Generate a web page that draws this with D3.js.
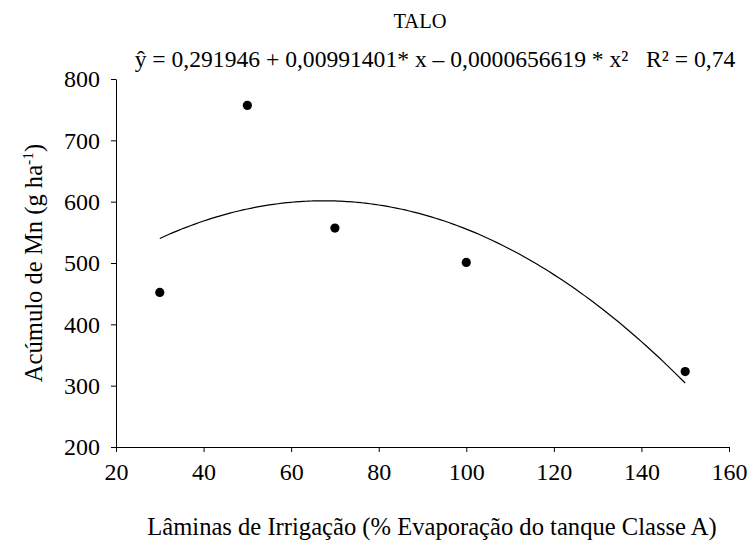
<!DOCTYPE html>
<html>
<head>
<meta charset="utf-8">
<script src="https://cdn.jsdelivr.net/npm/d3@7/dist/d3.min.js"></script>
</head>
<body style="margin:0;background:#fff">
<svg id="chart" width="753" height="549" style="display:block"></svg>
<script>
// Observed accumulation (g/ha) per irrigation depth
const laminas = [30, 50, 70, 100, 150];
const acumulo = [452, 757, 557, 501, 323];

// Quadratic trend curve as plotted: a + b*x + c*x^2
const trendCoef = [402.5, 5.895, -0.04367];
const trendRange = [30, 150];

const xTicks = [20, 40, 60, 80, 100, 120, 140, 160];
const yTicks = [200, 300, 400, 500, 600, 700, 800];

const titleText = "TALO";
const equationText = "ŷ = 0,291946 + 0,00991401* x – 0,0000656619 * x²   R² = 0,74";
const xTitle = "Lâminas de Irrigação (% Evaporação do tanque Classe A)";

const FONT = "Liberation Serif";
const svg = d3.select("#chart");
const margin = { left: 116, right: 24, top: 79, bottom: 102 };
const W = 753, H = 549;

const x = d3.scaleLinear().domain([20, 160]).range([margin.left, W - margin.right]);
const y = d3.scaleLinear().domain([200, 800]).range([H - margin.bottom, margin.top]);

const fontSize = 24;

// axes
const xAxis = d3.axisBottom(x).tickValues(xTicks).tickSize(5).tickSizeOuter(0).tickPadding(11);
const yAxis = d3.axisLeft(y).tickValues(yTicks).tickSize(5).tickSizeOuter(0).tickPadding(11);

const gx = svg.append("g").attr("transform", `translate(0,${y(200)})`).call(xAxis);
const gy = svg.append("g").attr("transform", `translate(${x(20)},0)`).call(yAxis);
[gx, gy].forEach(g => {
  g.attr("font-family", null).attr("font-size", null);
  g.selectAll("path, line").attr("stroke", "#000").attr("stroke-width", 1);
  g.selectAll("text").attr("fill", "#000").attr("font-size", fontSize);
});

// trend curve
const curvePts = d3.range(trendRange[0], trendRange[1] + 0.5, 1)
  .map(v => [v, trendCoef[0] + trendCoef[1] * v + trendCoef[2] * v * v]);
svg.append("path")
  .datum(curvePts)
  .attr("fill", "none")
  .attr("stroke", "#000")
  .attr("stroke-width", 1.2)
  .attr("d", d3.line().x(d => x(d[0])).y(d => y(d[1])).curve(d3.curveMonotoneX));

// observed points
svg.append("g").selectAll("circle")
  .data(laminas.map((v, i) => [v, acumulo[i]]))
  .join("circle")
  .attr("cx", d => x(d[0]))
  .attr("cy", d => y(d[1]))
  .attr("r", 4.6)
  .attr("fill", "#000");

// title and equation
svg.append("text")
  .attr("x", 420).attr("y", 28)
  .attr("text-anchor", "middle")
  .attr("font-size", 20.5)
  .text(titleText);

svg.append("text")
  .attr("x", 435).attr("y", 67)
  .attr("text-anchor", "middle")
  .attr("font-size", 23.6)
  .attr("xml:space", "preserve")
  .text(equationText);

// axis titles
svg.append("text")
  .attr("x", 432).attr("y", 535)
  .attr("text-anchor", "middle")
  .attr("font-size", 24.6)
  .text(xTitle);

const yt = svg.append("text")
  .attr("transform", `translate(42,${(y(200) + y(800)) / 2}) rotate(-90)`)
  .attr("text-anchor", "middle")
  .attr("font-size", 24.6);
yt.append("tspan").text("Acúmulo de Mn (g ha");
yt.append("tspan").attr("dy", -9).attr("font-size", 15.5).text("-1");
yt.append("tspan").attr("dy", 9).text(")");

// serif face on every text element
svg.selectAll("text, tspan").attr("font-family", FONT);
</script>
</body>
</html>
